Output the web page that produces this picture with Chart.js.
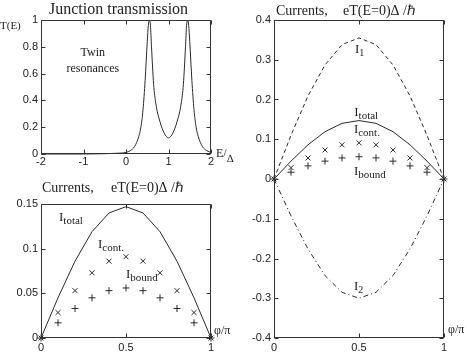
<!DOCTYPE html>
<html>
<head>
<meta charset="utf-8">
<script src="https://cdn.jsdelivr.net/npm/chart.js@4"></script>
<style>
  body { margin: 0; background: #fff; width: 467px; height: 355px; position: relative; overflow: hidden; }
  canvas { position: absolute; }
</style>
</head>
<body>
<canvas id="trans" width="235" height="177" style="left:0;top:0"></canvas>
<canvas id="curLeft" width="235" height="175" style="left:0;top:180px"></canvas>
<canvas id="curRight" width="232" height="355" style="left:235px;top:0"></canvas>
<script>
// transmission T(E)
const energy = [-2, -1.5, -1, -0.5, -0.25, 0, 0.1, 0.2, 0.3, 0.35, 0.4, 0.45, 0.5, 0.525, 0.55, 0.575, 0.6, 0.65, 0.7, 0.8,
  0.9, 1.0, 1.1, 1.2, 1.3, 1.35, 1.4, 1.425, 1.45, 1.475, 1.5, 1.55, 1.6, 1.65, 1.7, 1.8, 1.9, 2.0];
const transmission = [0, 0, 0, 0.002, 0.005, 0.012, 0.025, 0.055, 0.13, 0.2, 0.33, 0.55, 0.84, 0.96, 1.0, 0.96, 0.8, 0.52, 0.38, 0.24,
  0.155, 0.12, 0.155, 0.24, 0.38, 0.52, 0.8, 0.96, 1.0, 0.96, 0.84, 0.55, 0.33, 0.2, 0.13, 0.055, 0.025, 0.012];

// currents vs phase difference phi/pi
const phase = [0, 0.1, 0.2, 0.3, 0.4, 0.5, 0.6, 0.7, 0.8, 0.9, 1];
const totalCurrent = [0, 0.045, 0.086, 0.119, 0.140, 0.147, 0.140, 0.119, 0.086, 0.045, 0];
const contCurrent = [0, 0.0285, 0.053, 0.073, 0.086, 0.091, 0.086, 0.073, 0.053, 0.0285, 0];
const boundCurrent = [0, 0.017, 0.033, 0.045, 0.053, 0.056, 0.053, 0.045, 0.033, 0.017, 0];
const current1 = [0, 0.11, 0.209, 0.287, 0.338, 0.355, 0.338, 0.287, 0.209, 0.11, 0];
const current2 = [0, -0.093, -0.176, -0.243, -0.285, -0.30, -0.285, -0.243, -0.176, -0.093, 0];

// tick labels
const energyTicks = [-2, -1, 0, 1, 2];
const transTicks = [0, 0.2, 0.4, 0.6, 0.8, 1];
const phaseTicks = [0, 0.5, 1];
const leftCurTicks = [0, 0.05, 0.1, 0.15];
const rightCurTicks = [-0.4, -0.3, -0.2, -0.1, 0, 0.1, 0.2, 0.3, 0.4];

const SERIF = "'Liberation Serif', 'Times New Roman', serif";
const SANS = "'Liberation Sans', Arial, sans-serif";
const INK = '#222';

const pts = (xs, ys) => xs.map((v, i) => ({ x: v, y: ys[i] }));

function drawText(ctx, t, x, y) {
  const size = t.size || 12;
  ctx.font = size + 'px ' + SERIF;
  ctx.textAlign = t.align || 'left';
  ctx.fillText(t.t, x, y);
  if (t.sub) {
    const w = ctx.measureText(t.t).width;
    const start = t.align === 'center' ? x + w / 2 : x + w;
    ctx.textAlign = 'left';
    ctx.font = (t.subSize || size - 1) + 'px ' + SERIF;
    ctx.fillText(t.sub, start + (t.subGap || 0), y + (t.subDy || 3));
  }
}

// MATLAB-ish box with inward ticks, plus titles / annotations
const matlabBox = {
  id: 'matlabBox',
  afterDatasetsDraw(chart, args, opts) {
    const { ctx, chartArea: a, scales: { x, y } } = chart;
    ctx.save();
    ctx.strokeStyle = '#333';
    ctx.lineWidth = 1;
    const L = Math.round(a.left) + 0.5, R = Math.round(a.right) - 0.5;
    const T = Math.round(a.top) + 0.5, B = Math.round(a.bottom) - 0.5;
    ctx.strokeRect(L, T, R - L, B - T);
    ctx.beginPath();
    x.ticks.forEach(t => {
      const p = Math.round(x.getPixelForValue(t.value)) + 0.5;
      ctx.moveTo(p, B); ctx.lineTo(p, B - 4);
      ctx.moveTo(p, T); ctx.lineTo(p, T + 4);
    });
    y.ticks.forEach(t => {
      const p = Math.round(y.getPixelForValue(t.value)) + 0.5;
      ctx.moveTo(L, p); ctx.lineTo(L + 4, p);
      ctx.moveTo(R, p); ctx.lineTo(R - 4, p);
    });
    ctx.stroke();

    ctx.fillStyle = INK;
    ctx.textBaseline = 'alphabetic';
    (opts.texts || []).forEach(t => {
      if (t.data) drawText(ctx, t, x.getPixelForValue(t.x), y.getPixelForValue(t.y));
      else drawText(ctx, t, a.left + t.dx, t.py);
    });
    ctx.restore();
  }
};

function axis(min, max, ticks, fitKey, fitVal, pad) {
  return {
    type: 'linear', min, max,
    afterBuildTicks: s => { s.ticks = ticks.map(v => ({ value: v })); },
    afterFit: s => { s[fitKey] = fitVal; },
    grid: { display: false, drawTicks: false },
    border: { display: false },
    ticks: {
      color: INK, padding: pad, maxRotation: 0, autoSkip: false,
      font: { family: SANS, size: 11 },
      callback: v => String(+v.toFixed(3))
    }
  };
}

function makeChart(id, datasets, scales, padding, texts) {
  return new Chart(document.getElementById(id), {
    type: 'scatter',
    data: { datasets },
    options: {
      responsive: false,
      animation: false,
      events: [],
      layout: { padding },
      plugins: { legend: { display: false }, tooltip: { enabled: false }, matlabBox: { texts } },
      scales
    },
    plugins: [matlabBox]
  });
}

const lineSet = (data, dash) => ({
  data, showLine: true, borderColor: '#2a2a2a', borderWidth: 1, borderDash: dash || [],
  pointRadius: 0, tension: 0, clip: false
});
const markSet = (data, style) => ({
  data, pointStyle: style, pointRadius: 3.5, borderColor: '#2a2a2a', borderWidth: 1,
  backgroundColor: 'transparent', clip: false
});

// top-left: junction transmission
makeChart('trans',
  [Object.assign(lineSet(pts(energy, transmission)), { cubicInterpolationMode: 'monotone' })],
  { x: axis(-2, 2, energyTicks, 'height', 23, 1), y: axis(0, 1, transTicks, 'width', 41, 3) },
  { top: 20, right: 24, left: 0, bottom: 0 },
  [
    { t: 'Junction transmission', dx: 8, py: 14, size: 16 },
    { t: 'T(E)', dx: -41, py: 29, size: 11 },
    { t: 'E/', sub: 'Δ', dx: 175, py: 157, size: 12, subDy: 5 },
    { t: 'Twin', data: true, x: -0.78, y: 0.73, size: 12, align: 'center' },
    { t: 'resonances', data: true, x: -0.78, y: 0.615, size: 12, align: 'center' }
  ]);

// bottom-left: currents
makeChart('curLeft',
  [lineSet(pts(phase, totalCurrent)), markSet(pts(phase, contCurrent), 'crossRot'), markSet(pts(phase, boundCurrent), 'cross')],
  { x: axis(0, 1, phaseTicks, 'height', 17, 3), y: axis(0, 0.15, leftCurTicks, 'width', 41, 3) },
  { top: 24, right: 24, left: 0, bottom: 0 },
  [
    { t: 'Currents,', dx: 1, py: 12, size: 14 },
    { t: 'eT(E=0)Δ /ℏ', dx: 70, py: 12, size: 14 },
    { t: 'φ/π', dx: 173, py: 154, size: 12 },
    { t: 'I', sub: 'total', data: true, x: 0.106, y: 0.131, size: 13, subSize: 11 },
    { t: 'I', sub: 'cont.', data: true, x: 0.335, y: 0.1008, size: 13, subSize: 11 },
    { t: 'I', sub: 'bound', data: true, x: 0.5, y: 0.0675, size: 13, subSize: 11 }
  ]);

// right: currents incl. I1 and I2
makeChart('curRight',
  [lineSet(pts(phase, current1), [4, 3]), lineSet(pts(phase, current2), [5, 3, 1, 3]), lineSet(pts(phase, totalCurrent)),
   markSet(pts(phase, contCurrent), 'crossRot'), markSet(pts(phase, boundCurrent), 'cross')],
  { x: axis(0, 1, phaseTicks, 'height', 17, 3), y: axis(-0.4, 0.4, rightCurTicks, 'width', 39, 3) },
  { top: 20, right: 23, left: 0, bottom: 0 },
  [
    { t: 'Currents,', dx: 2, py: 15, size: 14 },
    { t: 'eT(E=0)Δ /ℏ', dx: 69, py: 15, size: 14 },
    { t: 'φ/π', dx: 174, py: 333, size: 12 },
    { t: 'I', sub: '1', data: true, x: 0.476, y: 0.316, size: 13, subSize: 10 },
    { t: 'I', sub: 'total', data: true, x: 0.472, y: 0.159, size: 13, subSize: 11 },
    { t: 'I', sub: 'cont.', data: true, x: 0.47, y: 0.115, size: 13, subSize: 11 },
    { t: 'I', sub: 'bound', data: true, x: 0.47, y: 0.010, size: 13, subSize: 11 },
    { t: 'I', sub: '2', data: true, x: 0.47, y: -0.279, size: 13, subSize: 10 }
  ]);
</script>
</body>
</html>
